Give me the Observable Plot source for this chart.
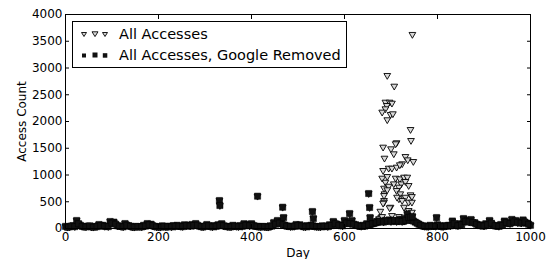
<!DOCTYPE html>
<html>
<head>
<meta charset="utf-8">
<script src="https://cdn.jsdelivr.net/npm/d3@7"></script>
<script src="https://cdn.jsdelivr.net/npm/@observablehq/plot@0.6"></script>
<style>
  html, body { margin: 0; padding: 0; background: #fff; }
  #wrap { position: relative; width: 547px; height: 259px; font-family: "DejaVu Sans", sans-serif; }
  #legend { position: absolute; left: 72px; top: 21px; width: 273px; height: 45px; border: 1px solid #000; background: #fff; }
  .row { position: absolute; left: 0; height: 20px; display: flex; align-items: center; }
  .row svg { width: 44px; height: 20px; margin-left: 2px; }
  .row span { font-size: 14.5px; color: #000; margin-left: 0px; white-space: nowrap; }
</style>
</head>
<body>
<div id="wrap"></div>
<script>
// Baseline daily access counts (both series coincide here)
const baseDays = [0,8,16,24,32,40,48,56,64,72,80,88,96,104,112,120,128,136,144,152,160,168,176,184,192,200,208,216,224,232,240,248,256,264,272,280,288,296,304,312,320,328,336,344,352,360,368,376,384,392,400,408,416,424,432,440,448,456,464,472,480,488,496,504,512,520,528,536,544,552,560,568,576,584,592,600,608,616,624,632,640,648,656,664,672,680,688,696,704,712,720,728,736,744,752,760,768,776,784,792,800,808,816,824,832,840,848,856,864,872,880,888,896,904,912,920,928,936,944,952,960,968,976,984,992,1000];
const baseCounts = [40,30,55,150,60,35,45,30,40,75,60,45,131,120,50,40,93,55,30,40,35,60,93,80,40,35,50,30,45,55,60,40,70,60,75,93,45,30,75,40,55,70,90,45,35,60,40,55,90,70,90,45,35,40,30,50,112,150,120,60,45,40,75,70,35,55,60,40,35,50,45,70,131,80,60,150,112,150,70,45,60,90,80,100,120,140,150,160,150,130,170,140,190,160,120,80,50,40,60,45,70,40,55,60,140,60,90,187,150,168,110,70,60,90,150,60,50,75,140,100,170,150,120,160,100,60];
const midDays = [4,12,20,28,36,44,52,60,68,76,84,92,100,108,116,124,132,140,148,156,164,172,180,188,196,204,212,220,228,236,244,252,260,268,276,284,292,300,308,316,324,332,340,348,356,364,372,380,388,396,404,412,420,428,436,444,452,460,468,476,484,492,500,508,516,524,532,540,548,556,564,572,580,588,596,604,612,620,628,636,644,652,660,668,676,684,692,700,708,716,724,732,740,748,756,764,772,780,788,796,804,812,820,828,836,844,852,860,868,876,884,892,900,908,916,924,932,940,948,956,964,972,980,988,996];
const midCounts = [25,45,35,90,40,30,50,25,35,55,40,35,100,80,45,30,60,40,25,35,30,45,70,50,30,25,40,35,30,40,45,35,50,45,55,60,35,40,50,30,40,60,50,35,30,45,35,40,60,50,55,40,30,35,25,45,80,100,70,45,35,40,55,45,30,40,50,35,30,40,35,55,90,60,50,100,90,80,55,40,45,70,90,110,130,120,140,130,150,140,130,150,160,140,100,60,40,35,45,40,50,35,45,50,90,50,70,130,120,110,80,55,45,70,100,50,40,60,110,90,120,110,100,120,80];

// Isolated higher days in the Google-removed series
const peakDays = [331,332,413,467,469,531,533,611,652,654,655,735,738,742,746,798];
const peakCounts = [523,430,604,398,205,318,187,280,654,393,205,274,205,211,224,205];

// All Accesses: days where the count rises above the Google-removed count
const spikeDays = [746,692,707,688,697,702,691,688,681,699,704,692,742,743,712,683,700,706,686,731,736,748,724,695,702,712,719,681,692,710,719,728,735,688,706,722,731,738,685,695,717,686,712,720,742,685,717,731,745,685,713,724,738,745,685,699,728,738,679,674,702,724,731,710,683,692,683,697,717,745,724,676,681,677,670];
const spikeCounts = [3628,2861,2661,2362,2362,2343,2300,2238,2176,2132,2145,2033,1851,1646,1603,1521,1490,1397,1315,1346,1284,1253,1210,1128,1128,1147,1191,941,972,941,929,960,960,866,835,835,879,804,754,791,773,649,711,649,630,524,555,585,598,617,585,524,492,492,492,398,398,337,211,181,243,211,181,1584,1085,724,473,387,224,305,181,181,224,323,150];

const xTicks = [0,200,400,600,800,1000];
const yTicks = [0,500,1000,1500,2000,2500,3000,3500,4000];
const seriesNames = ["All Accesses", "All Accesses, Google Removed"];

const googleRemoved = baseDays.map((d,i)=>({day:d, count:baseCounts[i]}))
  .concat(midDays.map((d,i)=>({day:d, count:midCounts[i]})))
  .concat(peakDays.map((d,i)=>({day:d, count:peakCounts[i]})));
const allAccesses = googleRemoved
  .concat(spikeDays.map((d,i)=>({day:d, count:spikeCounts[i]})));

const chart = Plot.plot({
  width: 547,
  height: 259,
  marginLeft: 65,
  marginRight: 17,
  marginTop: 14,
  marginBottom: 31,
  style: {fontFamily: "DejaVu Sans", fontSize: "12px", color: "#000", background: "#fff"},
  x: {domain: [0,1000]},
  y: {domain: [0,4000]},
  marks: [
    Plot.dot(allAccesses, {x:"day", y:"count", symbol:"triangle", rotate:180, r:2.5, fill:"#d8d8d8", stroke:"#000", strokeWidth:0.9}),
    Plot.dot(googleRemoved, {x:"day", y:"count", symbol:"square", r:3.5, fill:"#111", stroke:"#000", strokeWidth:0.5}),
    Plot.frame({stroke:"#000", strokeWidth:1}),
    Plot.axisX({anchor:"bottom", ticks:xTicks, tickSize:-4, tickPadding:8, label:"Day", labelAnchor:"center", labelArrow:"none", labelOffset:28, fontSize:12, tickFormat:d=>String(d)}),
    Plot.axisX({anchor:"top", ticks:xTicks, tickSize:-4, label:null, tickFormat:()=>""}),
    Plot.axisY({anchor:"left", ticks:yTicks, tickSize:-4, tickPadding:7, label:"Access Count", labelAnchor:"center", labelArrow:"none", labelOffset:48, fontSize:12, tickFormat:d=>String(d)}),
    Plot.axisY({anchor:"right", ticks:yTicks, tickSize:-4, label:null, tickFormat:()=>""})
  ]
});

const wrap = document.getElementById("wrap");
wrap.appendChild(chart);

const legend = document.createElement("div");
legend.id = "legend";
legend.innerHTML = `
  <div class="row" style="top:2px">
    <svg viewBox="0 0 44 20">
      <path d="M6.5,8.5 L11.5,8.5 L9,12.5 Z" fill="#d8d8d8" stroke="#000" stroke-width="0.9"/>
      <path d="M17,7.8 L23,7.8 L20,12.6 Z" fill="#d8d8d8" stroke="#000" stroke-width="0.9"/>
      <path d="M27.5,8.5 L32.5,8.5 L30,12.5 Z" fill="#d8d8d8" stroke="#000" stroke-width="0.9"/>
    </svg>
    <span>${seriesNames[0]}</span>
  </div>
  <div class="row" style="top:23px">
    <svg viewBox="0 0 44 20">
      <rect x="7" y="8.5" width="4" height="4" fill="#111"/>
      <rect x="17.5" y="7.5" width="5" height="5" fill="#111"/>
      <rect x="27.8" y="8.2" width="4.5" height="4.5" fill="#111"/>
    </svg>
    <span>${seriesNames[1]}</span>
  </div>`;
wrap.appendChild(legend);
</script>
</body>
</html>
